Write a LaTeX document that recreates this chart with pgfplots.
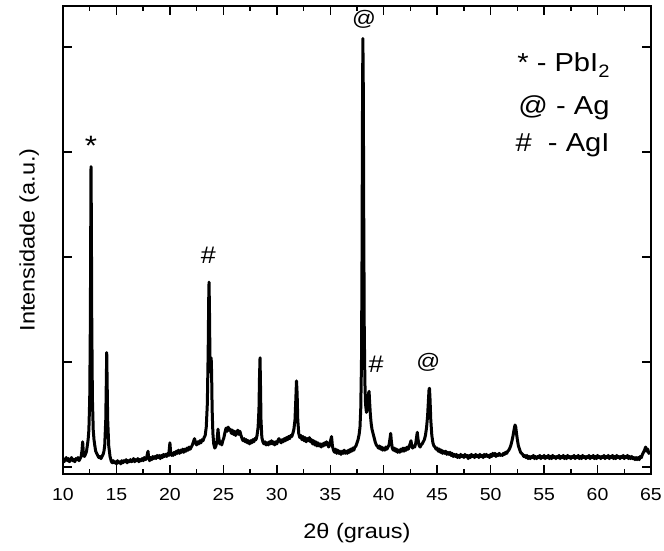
\documentclass[border=0pt]{standalone}
\usepackage{fontspec}
\setmainfont{Liberation Sans}[FakeStretch=1.12]
\usepackage{pgfplots}
\pgfplotsset{compat=1.18}
\begin{document}
\begin{tikzpicture}
\path[use as bounding box] (-63pt,-77pt) rectangle (601pt,474pt);
\begin{axis}[
  scale only axis, width=588pt, height=468pt,
  at={(0,0)}, anchor=south west,
  xmin=10, xmax=65, ymin=-0.0667, ymax=4.39,
  xtick={10,15,...,65}, minor x tick num=1,
  ytick={0,1,2,3,4}, yticklabels={},
  tick align=inside, xtick pos=both, ytick pos=both,
  major tick length=9pt, minor tick length=5pt,
  every tick/.style={line width=1.4pt, black},
  axis line style={line width=1.6pt},
  /pgf/number format/assume math mode=true,
  xticklabel style={font=\fontsize{17.4}{20}\selectfont, anchor=base, yshift=-26.7pt},
  xlabel={2θ (graus)},
  xlabel style={font=\fontsize{21}{24}\selectfont, at={(axis description cs:0.5,-0.137)}, anchor=base},
  ylabel={Intensidade (a.u.)},
  ylabel style={font=\fontsize{21}{24}\selectfont, at={(axis description cs:-0.035,0.5)}, anchor=south},
]
\addplot[black, line width=3pt, line join=round, no markers] coordinates {
(10.0,0.08)(10.1,0.05)(10.2,0.07)(10.3,0.09)(10.4,0.06)(10.5,0.08)(10.6,0.05)(10.7,0.07)(10.8,0.09)(10.9,0.06)
(11.0,0.07)(11.1,0.05)(11.2,0.08)(11.3,0.07)(11.4,0.09)(11.5,0.06)(11.6,0.08)(11.7,0.10)(11.78,0.16)(11.84,0.24)
(11.9,0.14)(12.0,0.10)(12.1,0.12)(12.2,0.15)(12.27,0.2)(12.35,0.26)(12.42,0.35)(12.5,0.65)(12.56,1.4)(12.6,2.4)
(12.62,2.86)(12.65,2.4)(12.69,1.4)(12.75,0.65)(12.83,0.35)(12.9,0.26)(12.98,0.2)(13.06,0.15)(13.15,0.13)(13.25,0.11)
(13.35,0.09)(13.45,0.1)(13.55,0.08)(13.65,0.1)(13.75,0.12)(13.83,0.15)(13.9,0.2)(14.0,0.45)(14.05,0.8)(14.09,1.09)
(14.13,0.8)(14.18,0.45)(14.28,0.2)(14.4,0.1)(14.5,0.06)(14.6,0.04)(14.7,0.06)(14.8,0.04)(14.9,0.05)(15.0,0.03)
(15.1,0.06)(15.2,0.04)(15.3,0.05)(15.4,0.03)(15.5,0.06)(15.6,0.04)(15.7,0.06)(15.8,0.05)(15.9,0.07)(16.0,0.04)
(16.1,0.06)(16.2,0.05)(16.3,0.07)(16.4,0.05)(16.5,0.06)(16.6,0.08)(16.7,0.05)(16.8,0.07)(16.9,0.06)(17.0,0.08)
(17.1,0.05)(17.2,0.07)(17.3,0.06)(17.4,0.08)(17.5,0.06)(17.6,0.09)(17.7,0.07)(17.8,0.08)(17.95,0.15)(18.0,0.10)
(18.1,0.06)(18.2,0.09)(18.3,0.07)(18.4,0.10)(18.5,0.08)(18.6,0.10)(18.7,0.08)(18.8,0.11)(18.9,0.09)(19.0,0.11)
(19.1,0.08)(19.2,0.11)(19.3,0.09)(19.4,0.12)(19.5,0.10)(19.6,0.12)(19.7,0.10)(19.8,0.13)(19.9,0.11)(19.95,0.18)
(20.0,0.23)(20.07,0.14)(20.15,0.11)(20.2,0.13)(20.3,0.11)(20.4,0.14)(20.5,0.12)(20.6,0.15)(20.7,0.13)(20.8,0.16)
(20.9,0.13)(21.0,0.16)(21.1,0.14)(21.2,0.17)(21.3,0.14)(21.4,0.17)(21.5,0.15)(21.6,0.18)(21.7,0.16)(21.8,0.19)
(21.9,0.17)(22.0,0.19)(22.1,0.21)(22.2,0.24)(22.3,0.27)(22.4,0.23)(22.5,0.21)(22.6,0.24)(22.7,0.22)(22.8,0.25)
(22.9,0.23)(23.0,0.26)(23.1,0.25)(23.2,0.28)(23.3,0.3)(23.4,0.38)(23.5,0.6)(23.58,1.1)(23.63,1.6)(23.66,1.76)
(23.7,1.5)(23.75,1.0)(23.8,0.9)(23.86,1.04)(23.9,0.9)(23.95,0.55)(24.02,0.32)(24.1,0.22)(24.2,0.18)(24.3,0.2)
(24.4,0.24)(24.5,0.36)(24.55,0.3)(24.65,0.22)(24.75,0.24)(24.85,0.21)(24.95,0.25)(25.05,0.28)(25.15,0.33)(25.25,0.37)
(25.35,0.34)(25.45,0.38)(25.55,0.35)(25.65,0.36)(25.75,0.32)(25.85,0.35)(25.95,0.31)(26.05,0.34)(26.15,0.30)(26.25,0.33)
(26.35,0.35)(26.45,0.31)(26.55,0.34)(26.65,0.30)(26.75,0.27)(26.85,0.25)(26.95,0.27)(27.05,0.24)(27.15,0.26)(27.25,0.23)
(27.35,0.25)(27.45,0.22)(27.55,0.25)(27.65,0.23)(27.75,0.26)(27.85,0.24)(27.95,0.27)(28.05,0.26)(28.15,0.30)(28.25,0.38)
(28.33,0.55)(28.38,0.85)(28.43,1.04)(28.47,0.8)(28.52,0.45)(28.6,0.28)(28.7,0.24)(28.8,0.22)(28.9,0.24)(29.0,0.21)
(29.1,0.23)(29.2,0.21)(29.3,0.24)(29.4,0.22)(29.5,0.25)(29.6,0.22)(29.7,0.24)(29.8,0.21)(29.9,0.24)(30.0,0.22)
(30.1,0.25)(30.2,0.27)(30.3,0.25)(30.4,0.23)(30.5,0.26)(30.6,0.24)(30.7,0.27)(30.8,0.25)(30.9,0.28)(31.0,0.26)
(31.1,0.29)(31.2,0.27)(31.3,0.30)(31.4,0.29)(31.5,0.32)(31.6,0.36)(31.7,0.45)(31.78,0.65)(31.84,0.82)(31.9,0.7)
(31.96,0.45)(32.05,0.32)(32.15,0.28)(32.25,0.3)(32.35,0.26)(32.45,0.29)(32.55,0.25)(32.65,0.28)(32.75,0.24)(32.85,0.27)
(32.95,0.25)(33.05,0.28)(33.15,0.24)(33.25,0.26)(33.35,0.22)(33.45,0.25)(33.55,0.21)(33.65,0.24)(33.75,0.20)(33.85,0.23)
(33.95,0.20)(34.05,0.22)(34.15,0.19)(34.25,0.22)(34.35,0.2)(34.45,0.23)(34.55,0.21)(34.65,0.24)(34.75,0.22)(34.85,0.19)
(34.95,0.22)(35.05,0.26)(35.12,0.29)(35.2,0.2)(35.3,0.16)(35.4,0.14)(35.5,0.17)(35.6,0.13)(35.7,0.16)(35.8,0.13)
(35.9,0.15)(36.0,0.12)(36.1,0.15)(36.2,0.13)(36.3,0.16)(36.4,0.13)(36.5,0.15)(36.6,0.13)(36.7,0.16)(36.8,0.14)
(36.9,0.17)(37.0,0.15)(37.1,0.18)(37.2,0.16)(37.3,0.19)(37.4,0.2)(37.5,0.23)(37.6,0.26)(37.7,0.31)(37.78,0.38)
(37.85,0.55)(37.92,1.0)(37.97,2.0)(38.01,3.3)(38.05,4.08)(38.09,3.6)(38.13,2.4)(38.18,1.3)(38.24,0.8)(38.3,0.6)
(38.38,0.52)(38.45,0.55)(38.52,0.62)(38.58,0.7)(38.63,0.72)(38.68,0.62)(38.75,0.5)(38.82,0.42)(38.9,0.36)(39.0,0.32)
(39.1,0.28)(39.2,0.24)(39.3,0.21)(39.4,0.2)(39.5,0.18)(39.6,0.2)(39.7,0.17)(39.8,0.19)(39.9,0.16)(40.0,0.18)
(40.1,0.16)(40.2,0.19)(40.3,0.17)(40.4,0.19)(40.5,0.21)(40.6,0.28)(40.65,0.32)(40.72,0.24)(40.8,0.18)(40.9,0.16)
(41.0,0.18)(41.1,0.15)(41.2,0.17)(41.3,0.14)(41.4,0.16)(41.5,0.14)(41.6,0.17)(41.7,0.15)(41.8,0.18)(41.9,0.15)
(42.0,0.18)(42.1,0.16)(42.2,0.19)(42.3,0.17)(42.4,0.2)(42.5,0.23)(42.55,0.25)(42.62,0.2)(42.7,0.18)(42.8,0.2)
(42.9,0.19)(43.0,0.23)(43.08,0.29)(43.14,0.33)(43.2,0.27)(43.3,0.21)(43.4,0.19)(43.5,0.21)(43.6,0.22)(43.7,0.24)
(43.8,0.26)(43.9,0.3)(44.0,0.37)(44.1,0.48)(44.18,0.63)(44.24,0.74)(44.28,0.75)(44.33,0.65)(44.4,0.45)(44.5,0.3)
(44.6,0.23)(44.7,0.2)(44.8,0.19)(44.9,0.17)(45.0,0.18)(45.1,0.15)(45.2,0.17)(45.3,0.14)(45.4,0.16)(45.5,0.13)
(45.6,0.15)(45.7,0.13)(45.8,0.15)(45.9,0.12)(46.0,0.14)(46.1,0.12)(46.2,0.14)(46.3,0.11)(46.4,0.13)(46.5,0.10)
(46.6,0.12)(46.7,0.10)(46.8,0.12)(46.9,0.09)(47.0,0.11)(47.1,0.09)(47.2,0.12)(47.3,0.10)(47.4,0.11)(47.5,0.09)
(47.6,0.12)(47.7,0.10)(47.8,0.11)(47.9,0.08)(48.0,0.11)(48.1,0.09)(48.2,0.12)(48.3,0.10)(48.4,0.11)(48.5,0.09)
(48.6,0.12)(48.7,0.10)(48.8,0.11)(48.9,0.09)(49.0,0.12)(49.1,0.10)(49.2,0.11)(49.3,0.09)(49.4,0.12)(49.5,0.10)
(49.6,0.12)(49.7,0.10)(49.8,0.11)(49.9,0.09)(50.0,0.12)(50.1,0.10)(50.2,0.13)(50.3,0.11)(50.4,0.13)(50.5,0.10)
(50.6,0.12)(50.7,0.11)(50.8,0.13)(50.9,0.11)(51.0,0.12)(51.1,0.11)(51.2,0.13)(51.3,0.12)(51.4,0.14)(51.5,0.13)
(51.6,0.15)(51.7,0.16)(51.8,0.18)(51.9,0.21)(52.0,0.25)(52.1,0.3)(52.2,0.36)(52.28,0.40)(52.35,0.38)(52.42,0.32)
(52.5,0.26)(52.6,0.2)(52.7,0.17)(52.8,0.14)(52.9,0.13)(53.0,0.12)(53.1,0.10)(53.2,0.11)(53.3,0.09)(53.4,0.11)
(53.5,0.08)(53.6,0.10)(53.7,0.08)(53.8,0.10)(53.9,0.09)(54.0,0.11)(54.1,0.08)(54.2,0.10)(54.3,0.08)(54.4,0.10)
(54.5,0.09)(54.6,0.11)(54.7,0.08)(54.8,0.10)(54.9,0.09)(55.0,0.11)(55.1,0.08)(55.2,0.10)(55.3,0.09)(55.4,0.11)
(55.5,0.08)(55.6,0.10)(55.7,0.08)(55.8,0.11)(55.9,0.09)(56.0,0.10)(56.1,0.08)(56.2,0.10)(56.3,0.09)(56.4,0.11)
(56.5,0.08)(56.6,0.10)(56.7,0.09)(56.8,0.11)(56.9,0.08)(57.0,0.10)(57.1,0.08)(57.2,0.11)(57.3,0.09)(57.4,0.10)
(57.5,0.08)(57.6,0.10)(57.7,0.09)(57.8,0.11)(57.9,0.08)(58.0,0.10)(58.1,0.09)(58.2,0.11)(58.3,0.08)(58.4,0.10)
(58.5,0.08)(58.6,0.11)(58.7,0.09)(58.8,0.10)(58.9,0.08)(59.0,0.10)(59.1,0.09)(59.2,0.11)(59.3,0.08)(59.4,0.10)
(59.5,0.09)(59.6,0.11)(59.7,0.08)(59.8,0.10)(59.9,0.08)(60.0,0.11)(60.1,0.09)(60.2,0.10)(60.3,0.08)(60.4,0.10)
(60.5,0.09)(60.6,0.11)(60.7,0.08)(60.8,0.10)(60.9,0.09)(61.0,0.11)(61.1,0.08)(61.2,0.10)(61.3,0.09)(61.4,0.11)
(61.5,0.08)(61.6,0.10)(61.7,0.08)(61.8,0.11)(61.9,0.09)(62.0,0.10)(62.1,0.08)(62.2,0.10)(62.3,0.09)(62.4,0.11)
(62.5,0.08)(62.6,0.10)(62.7,0.09)(62.8,0.11)(62.9,0.08)(63.0,0.10)(63.1,0.08)(63.2,0.10)(63.3,0.08)(63.4,0.09)
(63.5,0.07)(63.6,0.09)(63.7,0.07)(63.8,0.09)(63.9,0.07)(64.0,0.10)(64.1,0.09)(64.2,0.12)(64.3,0.14)(64.4,0.16)
(64.5,0.19)(64.6,0.15)(64.7,0.17)(64.8,0.13)(64.9,0.14)(65.0,0.13)
};
\node[anchor=base, font=\fontsize{28}{30}\selectfont] at (axis cs:12.62,2.97) {*};
\node[anchor=base, font=\fontsize{24}{26}\selectfont] at (axis cs:23.6,1.94) {\#};
\node[anchor=base, font=\fontsize{21}{23}\selectfont] at (axis cs:38.17,4.20) {@};
\node[anchor=base, font=\fontsize{24}{26}\selectfont] at (axis cs:39.28,0.90) {\#};
\node[anchor=base, font=\fontsize{21}{23}\selectfont] at (axis cs:44.17,0.94) {@};
\node[anchor=base east, font=\fontsize{26}{28}\selectfont] at (axis cs:61.45,3.764) {* - PbI\raisebox{-6pt}{\fontsize{18}{18}\selectfont 2}};
\node[anchor=base east, font=\fontsize{26}{28}\selectfont] at (axis cs:61.45,3.352) {@ - Ag};
\node[anchor=base east, font=\fontsize{26}{28}\selectfont] at (axis cs:61.45,3.003) {\#\ \ - AgI};
\end{axis}
\end{tikzpicture}
\end{document}
